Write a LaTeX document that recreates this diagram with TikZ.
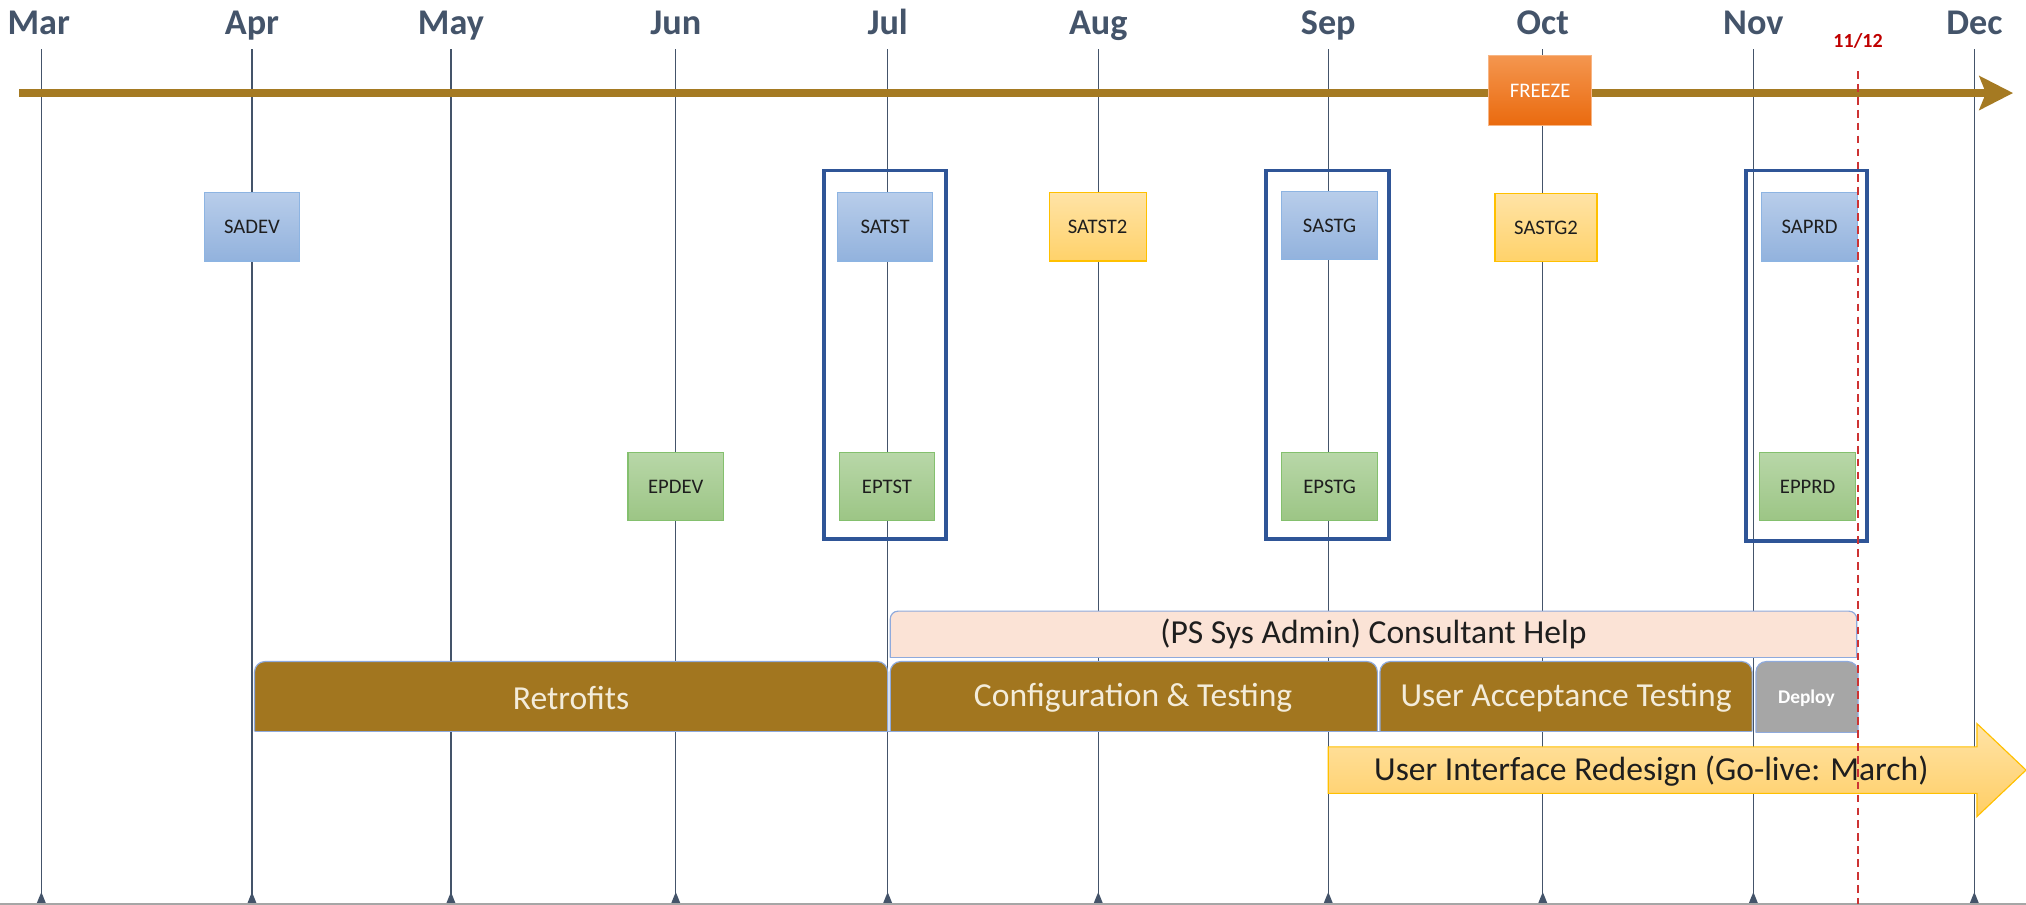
\documentclass[tikz,border=0pt]{standalone}
\usepackage{fontspec}
\setmainfont{Carlito}
\usetikzlibrary{arrows.meta}
\definecolor{slate}{HTML}{44546A}
\definecolor{tbrown}{HTML}{A57A22}
\definecolor{barbrown}{HTML}{A2761F}
\definecolor{cream}{HTML}{F3ECDA}
\definecolor{barline}{HTML}{8FAADC}
\definecolor{frameblue}{HTML}{2F5597}
\definecolor{satop}{HTML}{B8CDEA}
\definecolor{sabot}{HTML}{92B2DD}
\definecolor{saline}{HTML}{8DB4E2}
\definecolor{ytop}{HTML}{FFE3A6}
\definecolor{ybot}{HTML}{FFD26A}
\definecolor{yline}{HTML}{FFC000}
\definecolor{gtop}{HTML}{B8D7A8}
\definecolor{gbot}{HTML}{9CC585}
\definecolor{gline}{HTML}{84C06E}
\definecolor{otop}{HTML}{F4964F}
\definecolor{obot}{HTML}{EA6A0E}
\definecolor{peach}{HTML}{FBE3D6}
\definecolor{ddred}{HTML}{C00000}
\definecolor{txt}{HTML}{1E1E1E}
\begin{document}
\begin{tikzpicture}[x=1pt,y=-1pt,
  month/.style={font=\bfseries\fontsize{28}{28}\selectfont, text=slate, inner sep=0pt, anchor=base},
  mline/.style={draw=slate, line width=0.9pt},
  envbox/.style={minimum width=74pt, minimum height=53pt, inner sep=0pt, line width=0.9pt,
                 font=\fontsize{16}{16}\selectfont, text=txt},
  sabox/.style={envbox, top color=satop, bottom color=sabot, draw=saline},
  ybox/.style={envbox, top color=ytop, bottom color=ybot, draw=yline},
  epbox/.style={envbox, top color=gtop, bottom color=gbot, draw=gline},
  frame/.style={draw=frameblue, line width=3pt, inner sep=0pt},
  bartext/.style={font=\fontsize{26}{26}\selectfont, text=cream, inner sep=0pt},
  barshape/.style={fill=barbrown, draw=barline, line width=0.9pt},
]
\useasboundingbox (0,0) rectangle (1568,700);
\fill[white] (0,0) rectangle (1568,700);

% month grid
\foreach \m/\x in {Mar/30,Apr/195,May/349,Jun/523,Jul/687,Aug/850,Sep/1028,Oct/1194,Nov/1357,Dec/1528}{
  \node[month] (m\m) at (\x,27) {\m};
}
\foreach \m/\x in {Mar/32,Apr/195,May/349,Jun/523,Jul/687,Aug/850,Sep/1028,Oct/1194,Nov/1357,Dec/1528}{
  \coordinate (t\m) at (\x,38);
  \coordinate (b\m) at (\x,699);
  \draw[mline] (t\m) -- (b\m);
  \fill[slate] ({\x-3.5},699) -- ({\x-1.5},694) -- (\x,690.5) -- ({\x+1.5},694) -- ({\x+3.5},699) -- cycle;
}
\draw[draw=black!35, line width=1.5pt] (0,699.5) -- (1568,699.5);

% timeline arrow
\coordinate (tlstart) at (15,72);
\coordinate (tlend) at (1558,72);
\draw[draw=tbrown, line width=5.5pt, -{Stealth[length=26pt,width=26pt,inset=5pt]}] (tlstart) -- (tlend);

% freeze
\node[minimum width=80pt, minimum height=54pt, inner sep=0pt, top color=otop, bottom color=obot,
      draw=otop!70!white, line width=0.8pt, text=white, font=\fontsize{16}{16}\selectfont] (frz) at (1192,70) {FREEZE};

% frames
\node[frame, minimum width=94pt, minimum height=285pt] (fJul) at (685,274.5) {};
\node[frame, minimum width=95pt, minimum height=285pt] (fSep) at (1027.5,274.5) {};
\node[frame, minimum width=94pt, minimum height=287pt] (fNov) at (1398,275.5) {};

% SA boxes
\node[sabox] (sadev) at (195,175.5) {SADEV};
\node[sabox] (satst) at (685,175.5) {SATST};
\node[ybox, minimum width=75pt] (satst2) at (849.5,175.5) {SATST2};
\node[sabox] (sastg) at (1029,174.5) {SASTG};
\node[ybox, minimum width=79pt] (sastg2) at (1196.5,176) {SASTG2};
\node[sabox] (saprd) at (1400.5,175.5) {SAPRD};

% EP boxes
\node[epbox] (epdev) at (523,376.5) {EPDEV};
\node[epbox] (eptst) at (686.5,376.5) {EPTST};
\node[epbox] (epstg) at (1029,376.5) {EPSTG};
\node[epbox] (epprd) at (1399,376.5) {EPPRD};

% consultant help
\filldraw[fill=peach, draw=barline, line width=0.9pt] (689,509) [rounded corners=6pt] -- (689,473) -- (1437,473) -- (1437,509);
\draw[draw=barline, line width=0.9pt] (689,509) -- (1437,509);
\node[font=\fontsize{26}{26}\selectfont, text=txt, inner sep=0pt] (help) at (1063,491) {(PS Sys Admin) Consultant Help};

% phase bars
\filldraw[barshape] (197,566) [rounded corners=8pt] -- (197,512) -- (687,512) -- (687,566);
\filldraw[barshape] (689,566) [rounded corners=8pt] -- (689,512) -- (1066,512) -- (1066,566);
\filldraw[barshape] (1068,566) [rounded corners=8pt] -- (1068,512) -- (1356,512) -- (1356,566);
\filldraw[fill=black!35, draw=barline, line width=0.9pt] (1359,567) [rounded corners=8pt] -- (1359,512) -- (1438,512) -- (1438,567);
\draw[draw=barline, line width=0.9pt] (197,566) -- (1356,566);
\draw[draw=barline, line width=0.9pt] (1359,567) -- (1438,567);
\node[bartext] (retro) at (442,540) {Retrofits};
\node[bartext] (config) at (877,540) {Configuration \& Testing};
\node[bartext] (uat) at (1212,540) {User Acceptance Testing};
\node[font=\bfseries\fontsize{15}{15}\selectfont, text=white, inner sep=0pt] (deploy) at (1398,540) {Deploy};

% UI redesign arrow
\path[top color=ytop, bottom color=ybot!95!orange, draw=yline, line width=0.9pt]
  (1028,578) -- (1530,578) -- (1530,560) -- (1568,596) -- (1530,632) -- (1530,614) -- (1028,614) -- cycle;
\node[font=\fontsize{26}{26}\selectfont, text=txt, inner sep=0pt] (ui) at (1278,597) {User Interface Redesign (Go-live: March)};

% 11/12 marker
\node[font=\bfseries\fontsize{15.5}{15.5}\selectfont, text=ddred, inner sep=0pt] (d1112) at (1438,32) {11/12};
\coordinate (dtop) at (1438,55);
\coordinate (dbot) at (1438,700);
\draw[draw=ddred!80!white, line width=1.1pt, dash pattern=on 6pt off 4pt] (dtop) -- (dbot);
\end{tikzpicture}
\end{document}
